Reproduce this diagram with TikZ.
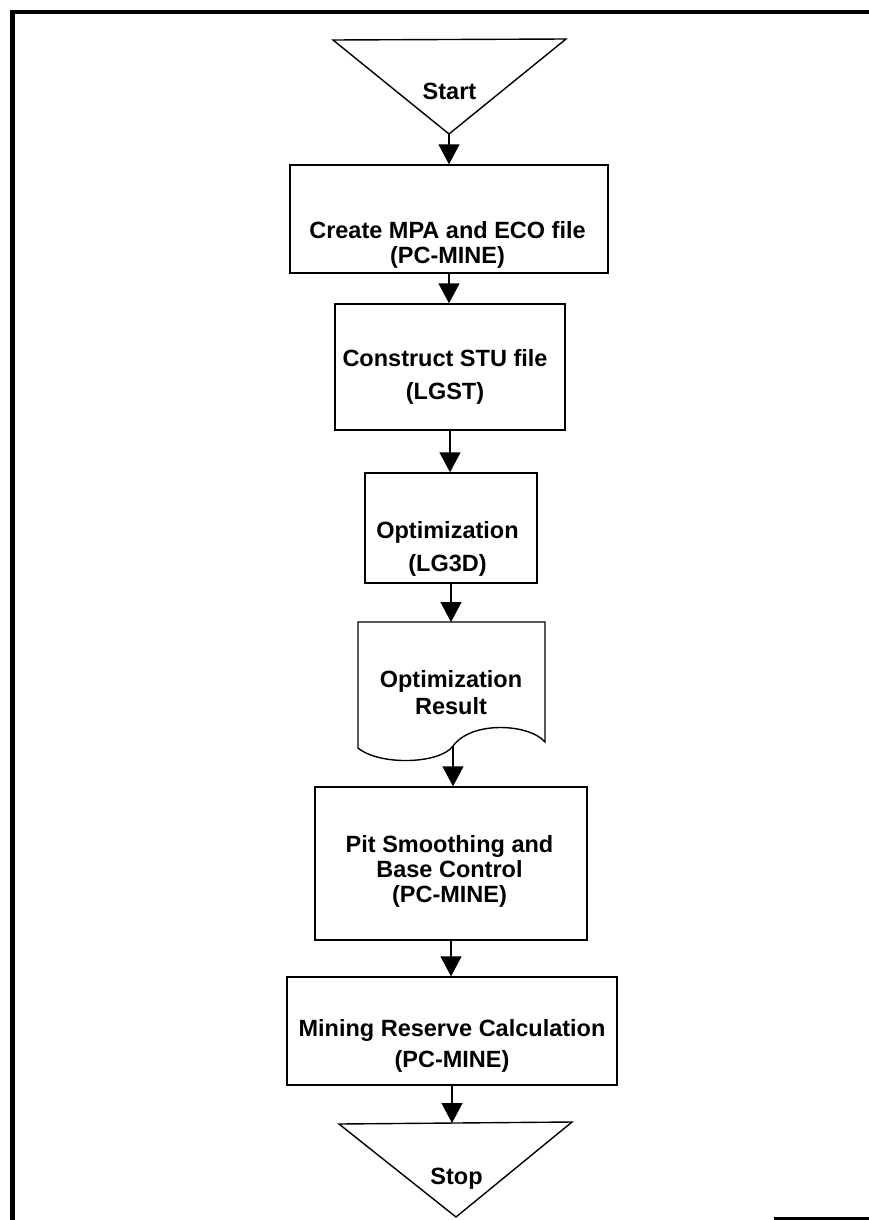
\documentclass[tikz,border=0pt]{standalone}
\usepackage{fontspec}
\setmainfont{Liberation Sans}
\usetikzlibrary{arrows.meta}
\begin{document}
\begin{tikzpicture}[x=1pt,y=-1pt,
  shapeline/.style={line width=1.4pt, line join=miter},
  box/.style={draw, line width=1.4pt, rectangle, inner sep=0pt},
  txt/.style={align=center, inner sep=0pt, anchor=north, font=\bfseries\fontsize{23.5}{#1}\selectfont},
  txt/.default=28,
  flow/.style={line width=1.4pt, -{Triangle[width=21pt,length=20pt]}}]
\useasboundingbox (0,0) rectangle (868,1220);
% frame
\draw[line width=4.5pt] (12.5,1222) -- (12.5,12) -- (870,12);
\draw[line width=3pt] (774,1218) -- (870,1218);

% start
\coordinate (st1) at (333,40);
\coordinate (st2) at (566,39);
\coordinate (stA) at (449,134);
\draw[shapeline] (st1) -- (st2) -- (stA) -- cycle;
\node[txt] (start) at (449.5,83) {Start};

% boxes
\node[box, minimum width=318pt, minimum height=108pt] (b1) at (449,219) {};
\node[txt=25] (t1) at (447.5,221) {Create MPA and ECO file\\(PC-MINE)};

\node[box, minimum width=230pt, minimum height=126pt] (b2) at (450,367) {};
\node[txt=33] (t2) at (445,349.5) {Construct STU file\\(LGST)};

\node[box, minimum width=172pt, minimum height=110pt] (b3) at (451,528) {};
\node[txt=33] (t3) at (447.5,521) {Optimization\\(LG3D)};

% document shape
\coordinate (dtop) at (452,622);
\coordinate (cusp) at (453,746);
\draw[shapeline] (358,622) -- (545,622) -- (545,742)
  .. controls (530,724) and (472,720) .. (cusp)
  .. controls (440,764) and (380,766) .. (358,748) -- cycle;
\node[txt=27] (doc) at (451,670.5) {Optimization\\Result};

\node[box, minimum width=272pt, minimum height=153pt] (b5) at (451,863.5) {};
\node[txt=25] (t5) at (449.5,835) {Pit Smoothing and\\Base Control\\(PC-MINE)};

\node[box, minimum width=330pt, minimum height=108pt] (b6) at (452,1031) {};
\node[txt=31] (t6) at (452,1019.5) {Mining Reserve Calculation\\(PC-MINE)};

% stop
\coordinate (sp1) at (339,1124);
\coordinate (sp2) at (572,1122);
\coordinate (spA) at (456,1217);
\coordinate (spT) at (456,1123);
\draw[shapeline] (sp1) -- (sp2) -- (spA) -- cycle;
\node[txt] (stop) at (456.5,1168) {Stop};

% connectors
\draw[flow] (stA) -- (stA |- b1.north);
\draw[flow] (b1) -- (b1 |- b2.north);
\draw[flow] (b2) -- (b2 |- b3.north);
\draw[flow] (b3) -- (b3 |- dtop);
\draw[flow] (cusp) -- (cusp |- b5.north);
\draw[flow] (b5) -- (b5 |- b6.north);
\draw[flow] (b6) -- (b6 |- spT);
\end{tikzpicture}
\end{document}
